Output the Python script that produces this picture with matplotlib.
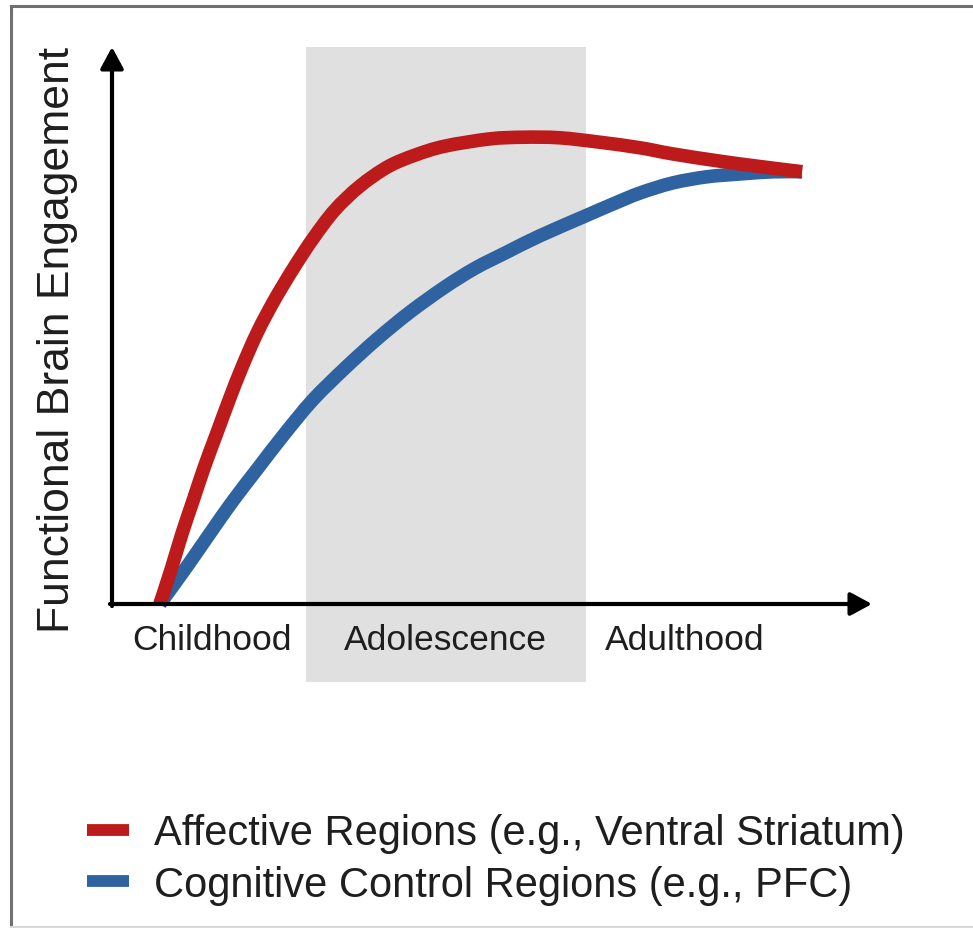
import matplotlib
matplotlib.use("Agg")
import matplotlib.pyplot as plt
from matplotlib.lines import Line2D
from matplotlib.path import Path
from matplotlib.patches import PathPatch

plt.rcParams['font.family'] = ['Liberation Sans', 'DejaVu Sans']

# ---- data (developmental time 0-100, engagement 0-100) ----
affective_x = [6.3, 7.8, 9.2, 10.7, 12.2, 13.8, 15.4, 17.1, 19.1, 21.3, 23.8, 26.4, 29.3,
               32.6, 36.3, 39.9, 43.8, 49.7, 54.1, 58.9, 64.2, 69.5, 73.8, 80.0, 84.9, 90.8]
affective_y = [0.0, 6.3, 12.6, 18.7, 24.8, 30.7, 36.6, 42.5, 48.7, 54.4, 60.1, 65.5, 70.7,
               75.0, 78.5, 80.6, 82.2, 83.5, 83.8, 83.7, 82.9, 81.9, 80.8, 79.5, 78.6, 77.6]
cognitive_x = [6.3, 9.9, 12.9, 15.9, 19.1, 22.5, 26.4, 30.7, 34.9, 39.2, 43.8, 47.8, 52.0,
               56.3, 62.0, 65.9, 69.5, 73.8, 78.3, 82.6, 87.0, 90.8]
cognitive_y = [0.0, 6.8, 12.7, 18.5, 24.2, 30.2, 36.6, 42.4, 47.6, 52.4, 56.9, 60.3, 63.2,
               66.1, 69.5, 71.8, 73.8, 75.6, 76.7, 77.2, 77.6, 77.6]
stage_labels = ["Childhood", "Adolescence", "Adulthood"]
stage_pos = [13.2, 43.9, 75.3]
adolescence_span = (25.5, 62.4)
series_labels = ["Affective Regions (e.g., Ventral Striatum)",
                 "Cognitive Control Regions (e.g., PFC)"]
y_label = "Functional Brain Engagement"

RED = '#BD1B1B'
BLUE = '#2E62A1'
SHADE = '#E0E0E0'
TXT = '#1e1e1e'
LW = 9.8


def smooth_path(xs, ys):
    """Cubic Bezier path through the given points (Catmull-Rom tangents)."""
    pts = list(zip(xs, ys))
    verts = [pts[0]]
    codes = [Path.MOVETO]
    n = len(pts)
    for i in range(n - 1):
        p0 = pts[i - 1] if i > 0 else pts[i]
        p1 = pts[i]
        p2 = pts[i + 1]
        p3 = pts[i + 2] if i + 2 < n else pts[i + 1]
        c1 = (p1[0] + (p2[0] - p0[0]) / 6.0, p1[1] + (p2[1] - p0[1]) / 6.0)
        c2 = (p2[0] - (p3[0] - p1[0]) / 6.0, p2[1] - (p3[1] - p1[1]) / 6.0)
        verts += [c1, c2, p2]
        codes += [Path.CURVE4] * 3
    return Path(verts, codes)


W, H = 973, 929
fig = plt.figure(figsize=(W / 100, H / 100), dpi=100)
fig.patch.set_facecolor('white')

x0, x1 = 112, 872
y0, y1 = 605, 48
ax = fig.add_axes([x0 / W, 1 - y0 / H, (x1 - x0) / W, (y0 - y1) / H])
ax.set_xlim(0, 100)
ax.set_ylim(0, 100)
for s in ax.spines.values():
    s.set_visible(False)
ax.set_xticks([])
ax.set_yticks([])
ax.patch.set_alpha(0)

# shaded adolescence band (extends below axis)
ax.axvspan(adolescence_span[0], adolescence_span[1], ymin=-78 / 557, ymax=1.0,
           color=SHADE, zorder=0, clip_on=False, lw=0)

# axis arrows
arrow_kw = dict(arrowstyle='-|>,head_length=0.65,head_width=0.35', lw=3.0,
                color='black', mutation_scale=20, shrinkA=0, shrinkB=0)
ax.annotate('', xy=(1.0, 0.0), xytext=(-0.0027, 0.0), xycoords='axes fraction',
            arrowprops=arrow_kw, zorder=5, annotation_clip=False)
ax.annotate('', xy=(0.0, 1.0), xytext=(0.0, -0.0037), xycoords='axes fraction',
            arrowprops=arrow_kw, zorder=5, annotation_clip=False)

# curves (smooth paths through the read points)
for xs, ys, col, z in [(cognitive_x, cognitive_y, BLUE, 3),
                       (affective_x, affective_y, RED, 4)]:
    patch = PathPatch(smooth_path(xs, ys), facecolor='none', edgecolor=col, lw=LW,
                      capstyle='butt', joinstyle='round', zorder=z, clip_on=False)
    ax.add_patch(patch)

# stage labels
for lab, xp in zip(stage_labels, stage_pos):
    ax.text(xp, -45 / 557, lab, transform=ax.get_xaxis_transform(), ha='center',
            va='baseline', fontsize=25.5, color=TXT)

# y label
fig.text(58 / W, 1 - 340 / H, y_label, rotation=90, ha='center', va='center',
         fontsize=32, color=TXT)

# legend
handles = [Line2D([], [], color=RED, lw=8.5, solid_capstyle='butt'),
           Line2D([], [], color=BLUE, lw=8.5, solid_capstyle='butt')]
leg = fig.legend(handles=handles, labels=series_labels, loc='center left',
                 bbox_to_anchor=(87 / W, 1 - 860 / H), frameon=False,
                 fontsize=30, handlelength=1.0, handletextpad=0.62,
                 labelspacing=0.28, borderpad=0, borderaxespad=0)
for t in leg.get_texts():
    t.set_color(TXT)

# outer frame
fig.add_artist(Line2D([11 / W, 11 / W], [1 - 928 / H, 1 - 7 / H], transform=fig.transFigure,
                      color='#707070', lw=2.2))
fig.add_artist(Line2D([11 / W, 1.0], [1 - 7 / H, 1 - 7 / H], transform=fig.transFigure,
                      color='#707070', lw=2.2))
fig.add_artist(Line2D([11 / W, 1.0], [1 - 927.5 / H, 1 - 927.5 / H], transform=fig.transFigure,
                      color='#d8d8d8', lw=1.5))

fig.savefig('out.png', dpi=100, facecolor='white')
